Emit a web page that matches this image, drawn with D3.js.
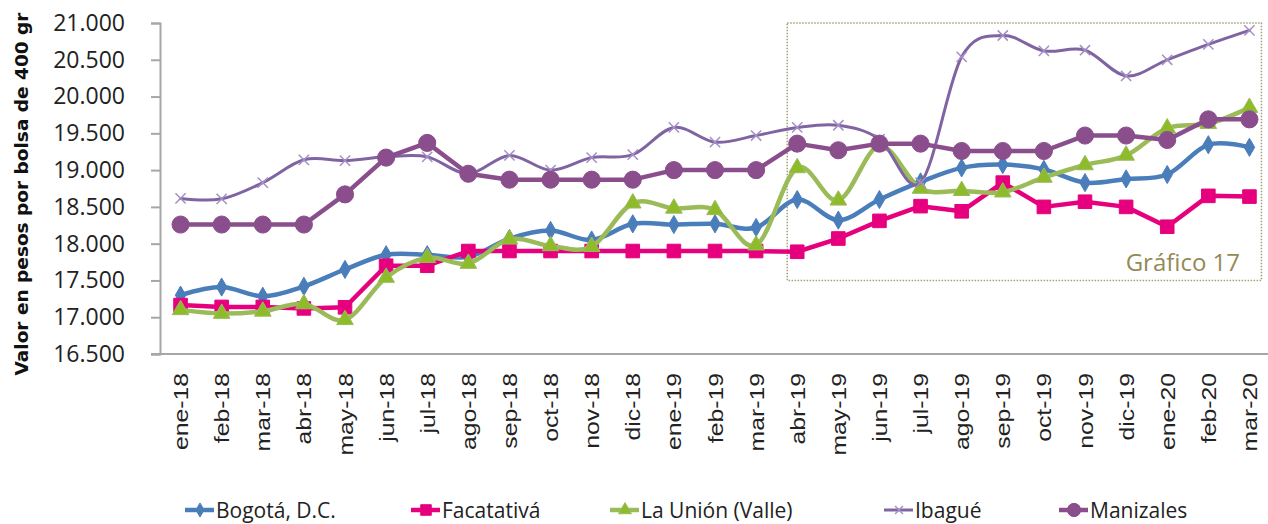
<!DOCTYPE html>
<html>
<head>
<meta charset="utf-8">
<script src="https://cdn.jsdelivr.net/npm/d3@7/dist/d3.min.js"></script>
<style>
  html, body { margin: 0; padding: 0; background: #fff; }
  svg { display: block; }
</style>
</head>
<body>
<svg id="chart" width="1268" height="524"></svg>
<script>
// ---------- DATA ----------
const months = ["ene-18","feb-18","mar-18","abr-18","may-18","jun-18","jul-18","ago-18","sep-18","oct-18","nov-18","dic-18",
                "ene-19","feb-19","mar-19","abr-19","may-19","jun-19","jul-19","ago-19","sep-19","oct-19","nov-19","dic-19",
                "ene-20","feb-20","mar-20"];
const bogota    = [17300,17410,17285,17420,17650,17850,17850,17820,18070,18180,18050,18270,18260,18270,18220,18600,18320,18600,18840,19030,19075,19010,18830,18880,18940,19345,19310];
const facatativa= [17165,17140,17140,17120,17135,17700,17700,17900,17900,17900,17900,17900,17900,17900,17900,17890,18070,18310,18510,18440,18830,18500,18570,18500,18230,18650,18640];
const laUnion   = [17100,17050,17080,17180,16965,17540,17810,17730,18060,17970,17960,18550,18480,18460,17980,19030,18590,19330,18750,18720,18700,18900,19070,19200,19570,19630,19850];
const ibague    = [18615,18610,18830,19140,19130,19180,19180,18950,19200,19000,19170,19210,19580,19380,19470,19580,19610,19420,18830,20540,20830,20620,20630,20280,20500,20710,20900];
const manizales = [18260,18260,18260,18260,18670,19170,19370,18950,18870,18870,18870,18870,19000,19000,19000,19360,19270,19360,19360,19260,19260,19260,19470,19470,19410,19690,19690];
const yTicks = [16500,17000,17500,18000,18500,19000,19500,20000,20500,21000];
const seriesNames = ["Bogotá, D.C.","Facatativá","La Unión (Valle)","Ibagué","Manizales"];
const yTitle = "Valor en pesos por bolsa de 400 gr";
const boxLabel = "Gráfico 17";
const boxRange = ["abr-19","mar-20"];

// ---------- STYLE ----------
const styles = [
  {color:"#4A7EBB", mfill:"#4A7EBB", width:4.5, symbol:d3.symbolDiamond, size:95, smooth:true},
  {color:"#E6007E", mfill:"#E6007E", width:4.5, symbol:d3.symbolSquare, size:185, smooth:false},
  {color:"#9BBB59", mfill:"#8DBB2A", width:4.5, symbol:d3.symbolTriangle, size:120, smooth:true},
  {color:"#8064A2", mfill:"none",    width:3,   symbol:d3.symbolX, size:70, smooth:true, xmark:true},
  {color:"#8B4E8C", mfill:"#8B4E8C", width:4.5, symbol:d3.symbolCircle, size:230, smooth:false}
];
const seriesData = [bogota, facatativa, laUnion, ibague, manizales];

const svg = d3.select("#chart");
const x = d3.scaleBand().domain(months).range([160, 1270]);
const y = d3.scaleLinear().domain([16500, 21000]).range([354, 23]);
const cx = m => x(m) + x.bandwidth() / 2;

// dotted box
const bx0 = cx(boxRange[0]) - 10, bx1 = cx(boxRange[1]) + 12;
svg.append("rect")
  .attr("x", bx0).attr("y", y(21000))
  .attr("width", bx1 - bx0).attr("height", y(17500) - y(21000))
  .attr("fill", "none").attr("stroke", "#A59F78").attr("stroke-width", 1.5)
  .attr("stroke-dasharray", "1.5,1.5");
svg.append("text")
  .attr("x", 1240).attr("y", 271)
  .attr("text-anchor", "end")
  .attr("font-family", "'Open Sans', sans-serif").attr("font-size", 24)
  .attr("fill", "#948A54").text(boxLabel);

// axes
const yAxis = svg.append("g").attr("transform", "translate(160,0)")
  .call(d3.axisLeft(y).tickValues(yTicks).tickSize(9).tickPadding(26)
        .tickFormat(d => d3.format(",")(d).replace(/,/g, ".")));
yAxis.select(".domain").attr("stroke", "#A6A6A6").attr("stroke-width", 2);
yAxis.selectAll(".tick line").attr("stroke", "#A6A6A6").attr("stroke-width", 2);
yAxis.selectAll(".tick text").attr("font-family", "'Open Sans', sans-serif").attr("font-size", 23).attr("fill", "#222");

const xAxis = svg.append("g").attr("transform", "translate(0,354)")
  .call(d3.axisBottom(x).tickSize(0).tickPadding(0));
xAxis.select(".domain").attr("stroke", "#A6A6A6").attr("stroke-width", 2)
  .attr("d", "M151,0H1268");
xAxis.selectAll(".tick text")
  .attr("font-family", "'Liberation Sans', Arial, sans-serif").attr("font-size", 21).attr("fill", "#222")
  .attr("text-anchor", "end")
  .attr("transform", "translate(0,19) rotate(-90) scale(1.18,1)")
  .attr("x", 0).attr("y", 0).attr("dy", "0.36em");

// y title
svg.append("text")
  .attr("transform", "translate(28,194) rotate(-90)")
  .attr("text-anchor", "middle")
  .attr("font-family", "'DejaVu Sans', Verdana, sans-serif").attr("font-weight", "bold").attr("font-size", 18.5)
  .attr("fill", "#111").text(yTitle);

// lines
seriesData.forEach((vals, i) => {
  const st = styles[i];
  const line = d3.line()
    .x((d, j) => cx(months[j])).y(d => y(d))
    .curve(st.smooth ? d3.curveCardinal.tension(0) : d3.curveLinear);
  svg.append("path").datum(vals)
    .attr("d", line).attr("fill", "none")
    .attr("stroke", st.color).attr("stroke-width", st.width)
    .attr("stroke-linejoin", "round").attr("stroke-linecap", "round");
  const g = svg.append("g");
  vals.forEach((v, j) => {
    const p = g.append("path")
      .attr("d", d3.symbol().type(st.symbol).size(st.size)())
      .attr("transform", `translate(${cx(months[j])},${y(v)})`);
    if (st.xmark) p.attr("fill", "none").attr("stroke", "#A58FC6").attr("stroke-width", 1.5);
    else p.attr("fill", st.mfill).attr("stroke", st.color).attr("stroke-width", 1);
  });
});

// legend
const legX = [185, 411, 610, 884, 1059];
seriesNames.forEach((name, i) => {
  const st = styles[i];
  const g = svg.append("g").attr("transform", `translate(${legX[i]},510)`);
  g.append("line").attr("x1", 0).attr("x2", 29).attr("y1", 0).attr("y2", 0)
    .attr("stroke", st.color).attr("stroke-width", st.width);
  const p = g.append("path").attr("d", d3.symbol().type(st.symbol).size(st.size * 0.6)())
    .attr("transform", "translate(15,0)");
  if (st.xmark) p.attr("fill", "none").attr("stroke", "#A58FC6").attr("stroke-width", 1.5);
  else p.attr("fill", st.mfill).attr("stroke", st.color);
  g.append("text").attr("x", 31).attr("y", 0).attr("dy", "0.36em")
    .attr("font-family", "'Open Sans', sans-serif").attr("font-size", 21).attr("fill", "#222")
    .text(name);
});
</script>
</body>
</html>
